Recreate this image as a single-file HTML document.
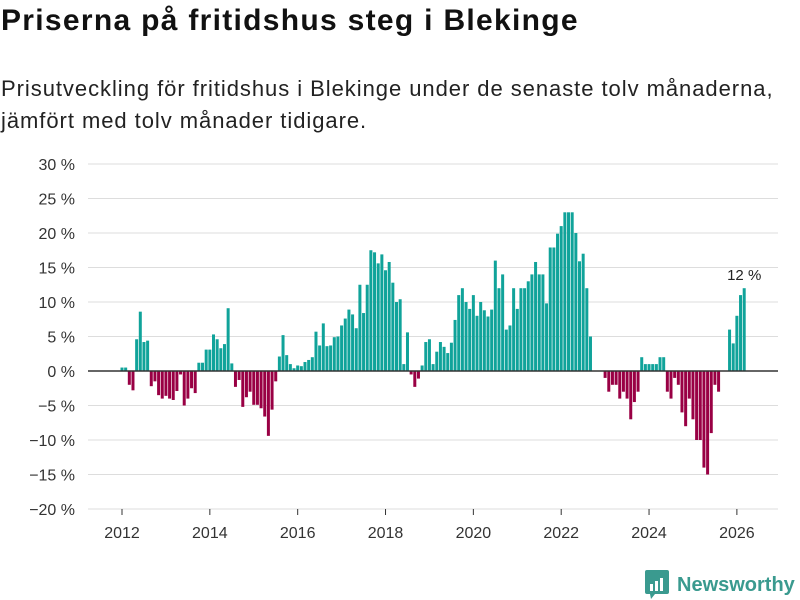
<!DOCTYPE html>
<html><head><meta charset="utf-8"><style>
body{margin:0;width:800px;height:600px;background:#fff;font-family:"Liberation Sans",sans-serif;overflow:hidden}
h1{position:absolute;left:1px;top:4px;margin:0;font-size:30px;letter-spacing:1.3px;font-weight:bold;color:#111}
p{position:absolute;left:1px;top:73px;margin:0;font-size:22px;letter-spacing:0.95px;line-height:32px;color:#222}
</style></head><body>
<h1>Priserna på fritidshus steg i Blekinge</h1>
<p>Prisutveckling för fritidshus i Blekinge under de senaste tolv månaderna,<br>jämfört med tolv månader tidigare.</p>
<svg id="chart" width="800" height="600" style="position:absolute;left:0;top:0"></svg>
<script>
const startYear = 2012;
const values = [0.5,0.5,-2,-2.8,4.6,8.6,4.2,4.4,-2.2,-1.5,-3.5,-4,
-3.6,-4,-4.2,-2.9,-0.5,-5,-4,-2.5,-3.2,1.2,1.2,3.1,3.1,
5.3,4.6,3.3,3.9,9.1,1.1,-2.3,-1.3,-5.2,-3.8,-3,-4.9,-4.9,-5.4,-6.6,-9.4,-5.6,
-1.5,2.1,5.2,2.3,1,0.4,0.8,0.7,1.3,1.6,2,5.7,3.7,6.9,3.6,3.7,4.9,5,6.6,7.6,8.9,8.2,6.2,12.5,8.4,12.5,
17.5,17.2,15.6,16.9,14.6,15.8,12.8,10,10.4,1,5.6,-0.5,-2.3,
-1.1,0.8,4.2,4.6,1,2.8,4.2,3.5,2.6,4.1,7.4,11,12,10,9,
11,8,10,8.8,7.9,8.9,16,12,14,6,6.6,12,9,12,12,13,14,15.8,14,14,9.8,
17.9,17.9,19.9,21,23,23,23,20,15.9,17,12,5,
0,0,0,-1,-3,-2,-2,-4,-3,-4,-7,-4.5,-3,
2,1,1,1,1,2,2,
-3,-4,-1,-2,-6,-8,-4,-7,-10,-10,-14,-15,-9,-2,-3,0,0,
6,4,8,11,12];
const yTicks = [30,25,20,15,10,5,0,-5,-10,-15,-20];
const xTicks = [2012,2014,2016,2018,2020,2022,2024,2026];
const lastLabel = "12 %";

const NS="http://www.w3.org/2000/svg";
const svg=document.getElementById('chart');
const y=v=>371-v*6.9;
const xi=i=>122+i*3.66;
const xy=yr=>122+(yr-startYear)*12*3.66;
function mk(t,a){const e=document.createElementNS(NS,t);for(const k in a)e.setAttribute(k,a[k]);svg.appendChild(e);return e;}
yTicks.forEach(t=>{
  const g=mk('line',{x1:88,x2:778,y1:y(t),y2:y(t),stroke:'#ddd','stroke-width':1});
  
  
  const l=mk('text',{x:75,y:y(t)+6,'text-anchor':'end','font-size':16,fill:'#333'});
  l.textContent=(t<0?'\u2212'+(-t):t)+' %';
  
  
});
xTicks.forEach(t=>{
  const tk=mk('line',{x1:xy(t),x2:xy(t),y1:509,y2:515,stroke:'#333','stroke-width':1});
  
  
  const l=mk('text',{x:xy(t),y:538,'text-anchor':'middle','font-size':16,fill:'#333'});
  l.textContent=t;
  
  
});
values.forEach((v,i)=>{
  if(v===0)return;
  const b=mk('rect',{x:xi(i)-1.5,width:3,y:Math.min(y(v),y(0)),height:Math.abs(y(v)-y(0)),fill:v>0?'#10a39a':'#990044'});
  
  
});
const z=mk('line',{x1:88,x2:778,y1:y(0),y2:y(0),stroke:'#333','stroke-width':1.5});


const ll=mk('text',{x:xi(values.length-1),y:y(values[values.length-1])-8,'text-anchor':'middle','font-size':15,fill:'#222'});
ll.textContent=lastLabel;


</script>
<div style="position:absolute;top:570px;left:645px;display:flex;align-items:center;color:#3a9a8f;font-weight:bold;font-size:20px">
<svg width="24" height="30" viewBox="0 0 24 30"><path d="M0 2Q0 0 2 0H22Q24 0 24 2V22Q24 24 22 24H10L6 29L5 24H2Q0 24 0 22Z" fill="#3a9a8f"/><rect x="5" y="14" width="3" height="7" fill="#fff"/><rect x="10" y="11" width="3" height="10" fill="#fff"/><rect x="15" y="8" width="3" height="13" fill="#fff"/></svg>
<span style="margin-left:8px">Newsworthy</span></div>
</body></html>
